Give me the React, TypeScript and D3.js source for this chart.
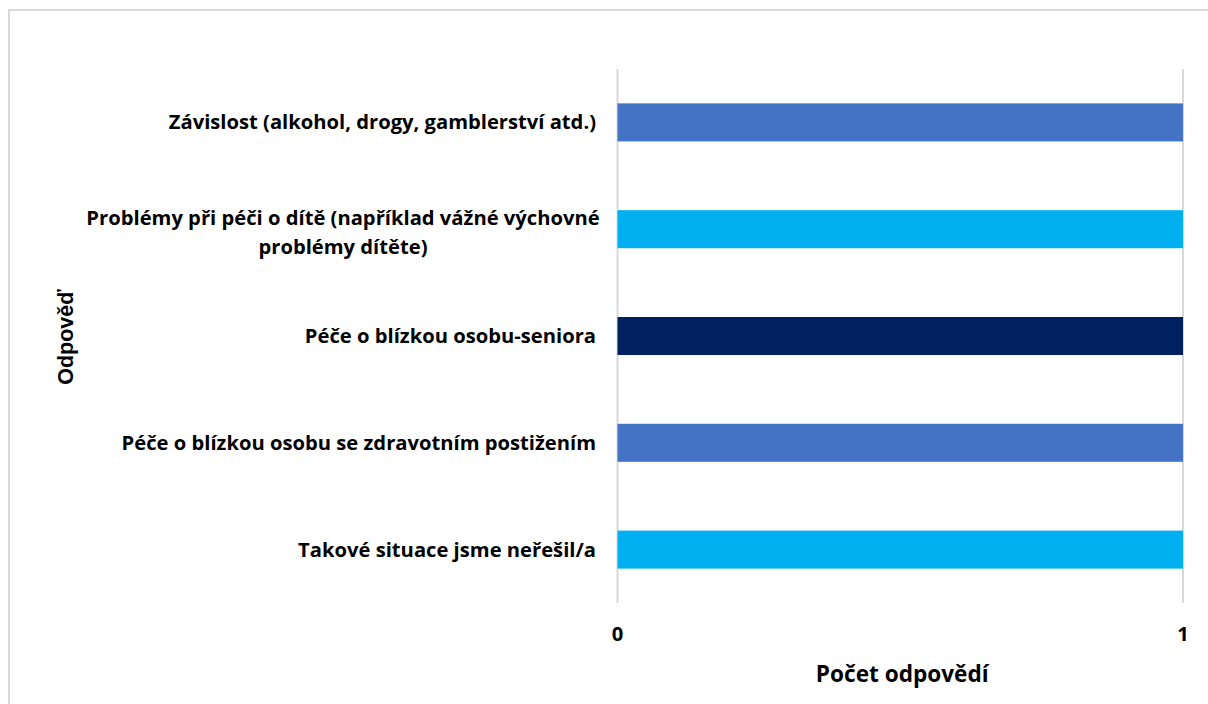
import React from "react";
import * as d3 from "d3";

const categories: string[][] = [
  ["Závislost (alkohol, drogy, gamblerství atd.)"],
  ["Problémy při péči o dítě (například vážné výchovné", "problémy dítěte)"],
  ["Péče o blízkou osobu-seniora"],
  ["Péče o blízkou osobu se zdravotním postižením"],
  ["Takové situace jsme neřešil/a"],
];
const values: number[] = [1, 1, 1, 1, 1];
const barColors: string[] = ["#4472C4", "#00B0F0", "#002060", "#4472C4", "#00B0F0"];
const xTicks: number[] = [0, 1];
const xTitle = "Počet odpovědí";
const yTitle = "Odpověď";

const W = 1208;
const H = 704;
const plot = { left: 617.5, right: 1183, top: 69, bottom: 603 };
const labelFont = "'Open Sans', sans-serif";
const fs = 20.2;

export default function App() {
  const x = d3.scaleLinear().domain([0, 1]).range([plot.left, plot.right]);
  const y = d3
    .scaleBand<number>()
    .domain(categories.map((_, i) => i))
    .range([plot.top, plot.bottom])
    .paddingInner(0.644)
    .paddingOuter(0.322);

  return (
    <svg
      width={W}
      height={H}
      style={{ position: "absolute", left: 0, top: 0, background: "#fff" }}
    >
      <rect x={0} y={0} width={W} height={H} fill="#fff" />
      <rect x={9} y={10} width={W + 20} height={H + 20} fill="none" stroke="#d9d9d9" strokeWidth={2} />
      {xTicks.map((t) => (
        <line key={"g" + t} x1={x(t)} x2={x(t)} y1={plot.top} y2={plot.bottom} stroke="#d9d9d9" strokeWidth={2} />
      ))}
      {values.map((v, i) => (
        <rect
          key={"b" + i}
          x={x(0)}
          y={y(i)}
          width={x(v) - x(0)}
          height={y.bandwidth()}
          fill={barColors[i]}
        />
      ))}
      {categories.map((lines, i) => {
        const cy = (y(i) as number) + y.bandwidth() / 2;
        const lh = 29;
        const right = 596;
        if (lines.length === 1) {
          return (
            <text
              key={"l" + i}
              x={right}
              y={cy}
              dy="0.35em"
              textAnchor="end"
              fontFamily={labelFont}
              fontWeight="bold"
              fontSize={fs}
              fill="#000"
            >
              {lines[0]}
            </text>
          );
        }
        return (
          <text
            key={"l" + i}
            fontFamily={labelFont}
            fontWeight="bold"
            fontSize={fs}
            fill="#000"
            textAnchor="middle"
          >
            {lines.map((ln, j) => (
              <tspan
                key={j}
                x={343}
                y={cy + 3 + (j - (lines.length - 1) / 2) * lh}
                dy="0.35em"
              >
                {ln}
              </tspan>
            ))}
          </text>
        );
      })}
      {xTicks.map((t) => (
        <text
          key={"t" + t}
          x={x(t)}
          y={641}
          textAnchor="middle"
          fontFamily={labelFont}
          fontWeight="bold"
          fontSize={fs}
          fill="#000"
        >
          {t}
        </text>
      ))}
      <text
        x={(plot.left + plot.right) / 2 + 2}
        y={682}
        textAnchor="middle"
        fontFamily={labelFont}
        fontWeight="bold"
        fontSize={22.6}
        fill="#000"
      >
        {xTitle}
      </text>
      <text
        transform={`translate(73, 337) rotate(-90)`}
        textAnchor="middle"
        fontFamily="'Liberation Sans', Arial, sans-serif"
        fontWeight="bold"
        fontSize={21.5}
        fill="#000"
      >
        {yTitle}
      </text>
    </svg>
  );
}
